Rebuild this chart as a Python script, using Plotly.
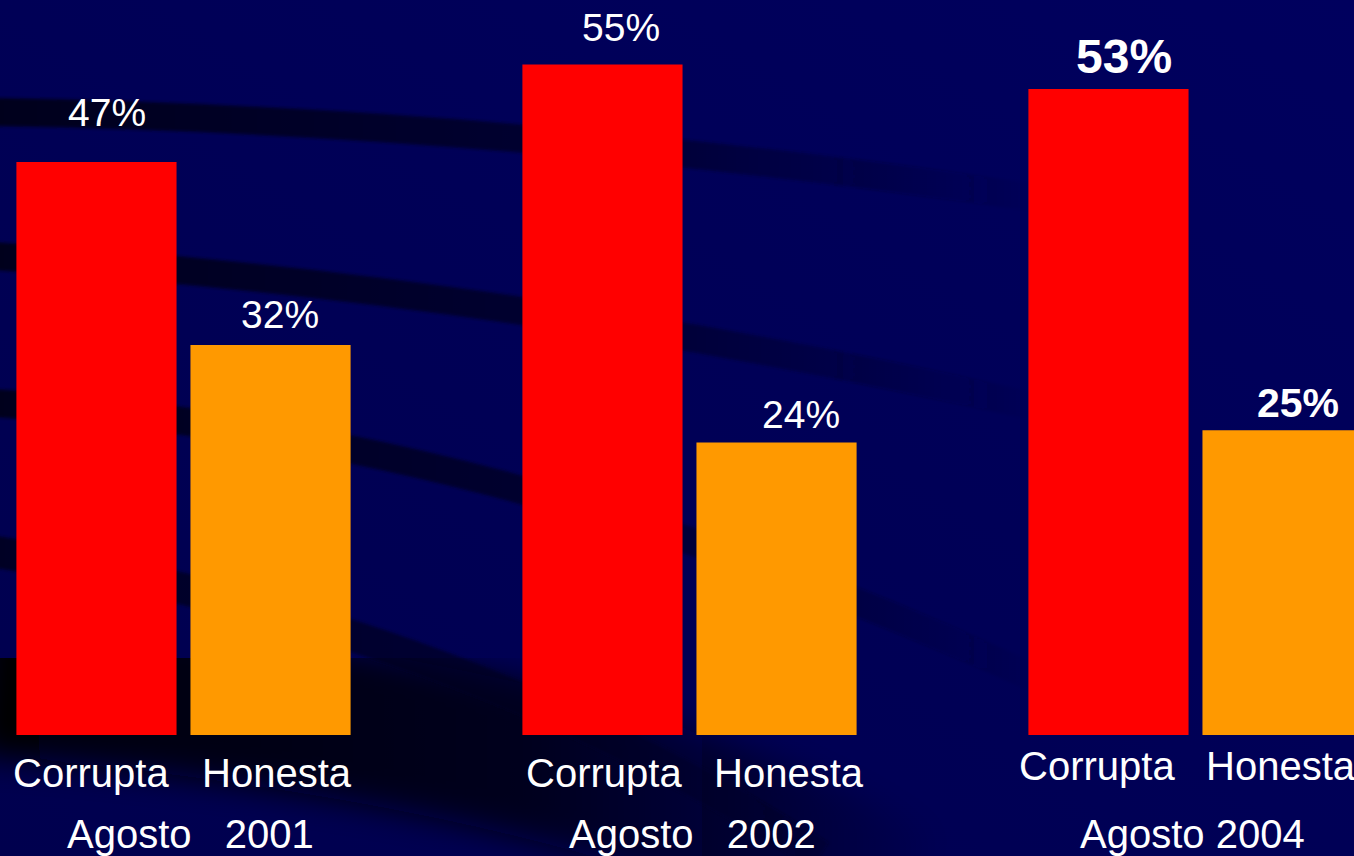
import base64
import plotly.graph_objects as go

periods = ["Agosto 2001", "Agosto 2002", "Agosto 2004"]
period_labels = ["Agosto\u00a0\u00a0\u00a02001", "Agosto\u00a0\u00a0\u00a02002", "Agosto 2004"]
categories = ["Corrupta", "Honesta"]
corrupta = [47, 55, 53]
honesta = [32, 24, 25]

RED = "#ff0000"
ORANGE = "#ff9900"
FONT = "Liberation Sans, Arial, sans-serif"

# background: navy slide with dark curved stripes fading to the right
bg_svg = """<svg xmlns='http://www.w3.org/2000/svg' width='1354' height='856' viewBox='0 0 1354 856'>
<defs>
<linearGradient id='bg' x1='0' y1='1' x2='1' y2='0'>
<stop offset='0' stop-color='#00004e'/><stop offset='1' stop-color='#00005e'/></linearGradient>
<linearGradient id='fade' gradientUnits='userSpaceOnUse' x1='0' y1='0' x2='1040' y2='0'>
<stop offset='0' stop-color='#00001c' stop-opacity='1'/>
<stop offset='0.5' stop-color='#000020' stop-opacity='0.75'/>
<stop offset='0.8' stop-color='#000024' stop-opacity='0.35'/>
<stop offset='1' stop-color='#000024' stop-opacity='0'/></linearGradient>
<linearGradient id='fade2' gradientUnits='userSpaceOnUse' x1='0' y1='0' x2='950' y2='0'>
<stop offset='0' stop-color='#000006' stop-opacity='1'/>
<stop offset='0.55' stop-color='#00000e' stop-opacity='0.8'/>
<stop offset='1' stop-color='#00000e' stop-opacity='0'/></linearGradient>
<filter id='blur'><feGaussianBlur stdDeviation='16'/></filter>
<filter id='soft'><feGaussianBlur stdDeviation='1.5'/></filter>
</defs>
<rect width='1354' height='856' fill='url(#bg)'/>
<path d='M-20,680 Q600,730 900,900' stroke='url(#fade2)' stroke-width='150' fill='none' filter='url(#blur)'/>
<g fill='none' stroke='url(#fade)' stroke-width='28' filter='url(#soft)'>
<path d='M-10,112 Q511,120 1050,200'/>
<path d='M-10,256 Q511,287 1050,410'/>
<path d='M-10,403 Q506,430 1060,690'/>
<path d='M-10,551 Q464,625 820,856' stroke-width='32' opacity='0.8'/>
</g>
</svg>"""
bg_uri = "data:image/svg+xml;base64," + base64.b64encode(bg_svg.encode()).decode()

fig = go.Figure()
fig.add_trace(go.Bar(x=periods, y=corrupta, name="Corrupta", marker_color=RED, marker_line_width=0))
fig.add_trace(go.Bar(x=periods, y=honesta, name="Honesta", marker_color=ORANGE, marker_line_width=0))

W, H = 1354, 856
BASE = 735  # pixel row of the bars' baseline
PX_PER_PCT = 12.19

# label nudges (pixels)
val_dx = {"Corrupta": [10.5, 18.5, 15.5], "Honesta": [9.5, 24.5, 15.5]}
val_dy = {"Corrupta": [50, 37, 32], "Honesta": [30.5, 28, 27.5]}
cat_dx = {"Corrupta": [-5.5, 1.5, -11.5], "Honesta": [6, 12.5, -1.5]}
cat_dy = [-37.5, -37.5, -30.5]
per_dx = [7, 2.5, -3]
bold = [False, False, True]
bold_size = {"Corrupta": 48, "Honesta": 41}

annotations = []
for i, p in enumerate(periods):
    for side, cat, vals in [(-1, "Corrupta", corrupta), (1, "Honesta", honesta)]:
        v = vals[i]
        annotations.append(dict(
            x=p, y=v, xref="x", yref="y", text=f"<b>{v}%</b>" if bold[i] else f"{v}%",
            showarrow=False, xanchor="center", yanchor="middle",
            xshift=side * 87 + val_dx[cat][i], yshift=val_dy[cat][i],
            font=dict(family=FONT, size=bold_size[cat] if bold[i] else 39, color="white"),
        ))
        annotations.append(dict(
            x=p, y=0, xref="x", yref="y", text=cat, showarrow=False,
            xanchor="center", yanchor="middle",
            xshift=side * 87 + cat_dx[cat][i], yshift=cat_dy[i],
            font=dict(family=FONT, size=40, color="white"),
        ))
    annotations.append(dict(
        x=p, y=0, xref="x", yref="y", text=period_labels[i], showarrow=False,
        xanchor="center", yanchor="middle", xshift=per_dx[i], yshift=-99,
        font=dict(family=FONT, size=40, color="white"),
    ))

fig.update_layout(
    width=W, height=H,
    margin=dict(l=0, r=0, t=0, b=H - BASE),
    barmode="group", bargap=0.312, bargroupgap=0.08,
    showlegend=False,
    paper_bgcolor="#000058", plot_bgcolor="rgba(0,0,0,0)",
    xaxis=dict(range=[-183.5 / 506, (W - 183.5) / 506], visible=False, fixedrange=True),
    yaxis=dict(range=[0, BASE / PX_PER_PCT], visible=False, fixedrange=True),
    annotations=annotations,
    images=[dict(source=bg_uri, xref="paper", yref="paper", x=0, y=1,
                 sizex=1, sizey=H / BASE, sizing="stretch", layer="below",
                 xanchor="left", yanchor="top")],
)

fig.write_html("out.html", config={"displayModeBar": False},
               post_script="document.body.style.margin='0';")
